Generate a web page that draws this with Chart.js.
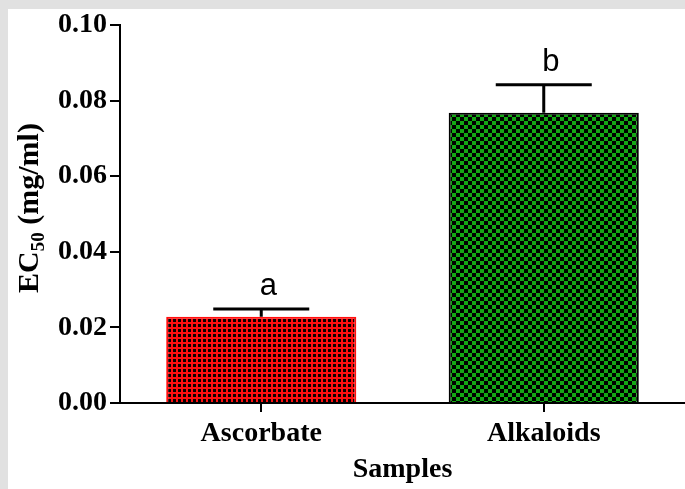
<!DOCTYPE html>
<html>
<head>
<meta charset="utf-8">
<script src="https://cdn.jsdelivr.net/npm/chart.js@4/dist/chart.umd.min.js"></script>
<style>
  html, body { margin: 0; padding: 0; background: #e1e1e1; }
  #wrap { position: absolute; left: 8px; top: 9px; width: 677px; height: 480px; background: #fff; }
</style>
</head>
<body>
<div id="wrap"><canvas id="chart"></canvas></div>
<script>
const categories = ["Ascorbate", "Alkaloids"];
const ec50Means = [0.0228, 0.0768];
const ec50Upper = [0.0249, 0.0842];
const groupLetters = ["a", "b"];
const yTicks = [0, 0.02, 0.04, 0.06, 0.08, 0.10];

const serif = "'Liberation Serif', 'Times New Roman', serif";

function pattern(size, bg, fg, cells) {
  const c = document.createElement("canvas");
  c.width = size; c.height = size;
  const g = c.getContext("2d");
  g.fillStyle = bg; g.fillRect(0, 0, size, size);
  g.fillStyle = fg;
  cells.forEach(r => g.fillRect(r[0], r[1], r[2], r[3]));
  return g.createPattern(c, "repeat");
}

// dotted red and checkered green fills
const redFill = pattern(5, "#ff1010", "#100000", [[0, 0, 3, 3]]);
const greenFill = pattern(8, "#14a814", "#000", [[0, 0, 4, 4], [4, 4, 4, 4]]);

const errorBars = {
  id: "errorBars",
  afterDatasetsDraw(chart) {
    const { ctx, scales: { y } } = chart;
    const meta = chart.getDatasetMeta(0);
    ctx.save();
    ctx.strokeStyle = "#000";
    ctx.lineWidth = 3;
    meta.data.forEach((bar, i) => {
      const top = y.getPixelForValue(ec50Upper[i]);
      ctx.beginPath();
      ctx.moveTo(bar.x, bar.y);
      ctx.lineTo(bar.x, top);
      ctx.moveTo(bar.x - 48, top);
      ctx.lineTo(bar.x + 48, top);
      ctx.stroke();
      ctx.fillStyle = "#000";
      ctx.font = "31px 'Liberation Sans', Arial, sans-serif";
      ctx.textAlign = "center";
      ctx.textBaseline = "alphabetic";
      ctx.fillText(groupLetters[i], bar.x + 7, top - 14);
    });
    ctx.restore();
  }
};

const yTitle = {
  id: "yTitle",
  afterDraw(chart) {
    const { ctx, chartArea } = chart;
    const big = "bold 30px " + serif, small = "bold 19px " + serif;
    ctx.save();
    ctx.font = big;
    const w1 = ctx.measureText("EC").width;
    const w3 = ctx.measureText(" (mg/ml)").width;
    ctx.font = small;
    const w2 = ctx.measureText("50").width;
    const total = w1 + w2 + w3;
    ctx.translate(30, (chartArea.top + chartArea.bottom) / 2 - 6);
    ctx.rotate(-Math.PI / 2);
    ctx.fillStyle = "#000";
    ctx.textBaseline = "alphabetic";
    ctx.textAlign = "left";
    let x = -total / 2;
    ctx.font = big; ctx.fillText("EC", x, 0); x += w1;
    ctx.font = small; ctx.fillText("50", x, 6); x += w2;
    ctx.font = big; ctx.fillText(" (mg/ml)", x, 0);
    ctx.restore();
  }
};

new Chart(document.getElementById("chart"), {
  type: "bar",
  data: {
    labels: categories,
    datasets: [{
      data: ec50Means,
      backgroundColor: [redFill, greenFill],
      borderColor: ["#ff1010", "#000"],
      borderWidth: 2,
      barPercentage: 0.673,
      categoryPercentage: 1
    }]
  },
  options: {
    responsive: true,
    maintainAspectRatio: false,
    animation: false,
    layout: { padding: { top: 16, right: 0, bottom: 0, left: 0 } },
    plugins: { legend: { display: false }, tooltip: { enabled: false } },
    scales: {
      x: {
        grid: { offset: false, drawOnChartArea: false, drawTicks: true, tickLength: 9, color: "#000", lineWidth: 2 },
        border: { color: "#000", width: 2 },
        ticks: { color: "#000", padding: 5, font: { family: serif, size: 28, weight: "bold" } },
        title: { display: true, text: "Samples", color: "#000", padding: { top: 0, bottom: 2 }, font: { family: serif, size: 28, weight: "bold" } },
        afterFit(s) { s.height = 86; }
      },
      y: {
        min: 0,
        max: 0.1,
        afterBuildTicks(s) { s.ticks = yTicks.map(v => ({ value: v })); },
        grid: { drawOnChartArea: false, drawTicks: true, tickLength: 10, color: "#000", lineWidth: 2 },
        border: { color: "#000", width: 2 },
        ticks: { color: "#000", padding: 3, callback: v => v.toFixed(2), font: { family: serif, size: 28, weight: "bold" } },
        afterFit(s) { s.width = 112; s.paddingTop = 0; s.paddingBottom = 0; }
      }
    }
  },
  plugins: [errorBars, yTitle]
});
</script>
</body>
</html>
